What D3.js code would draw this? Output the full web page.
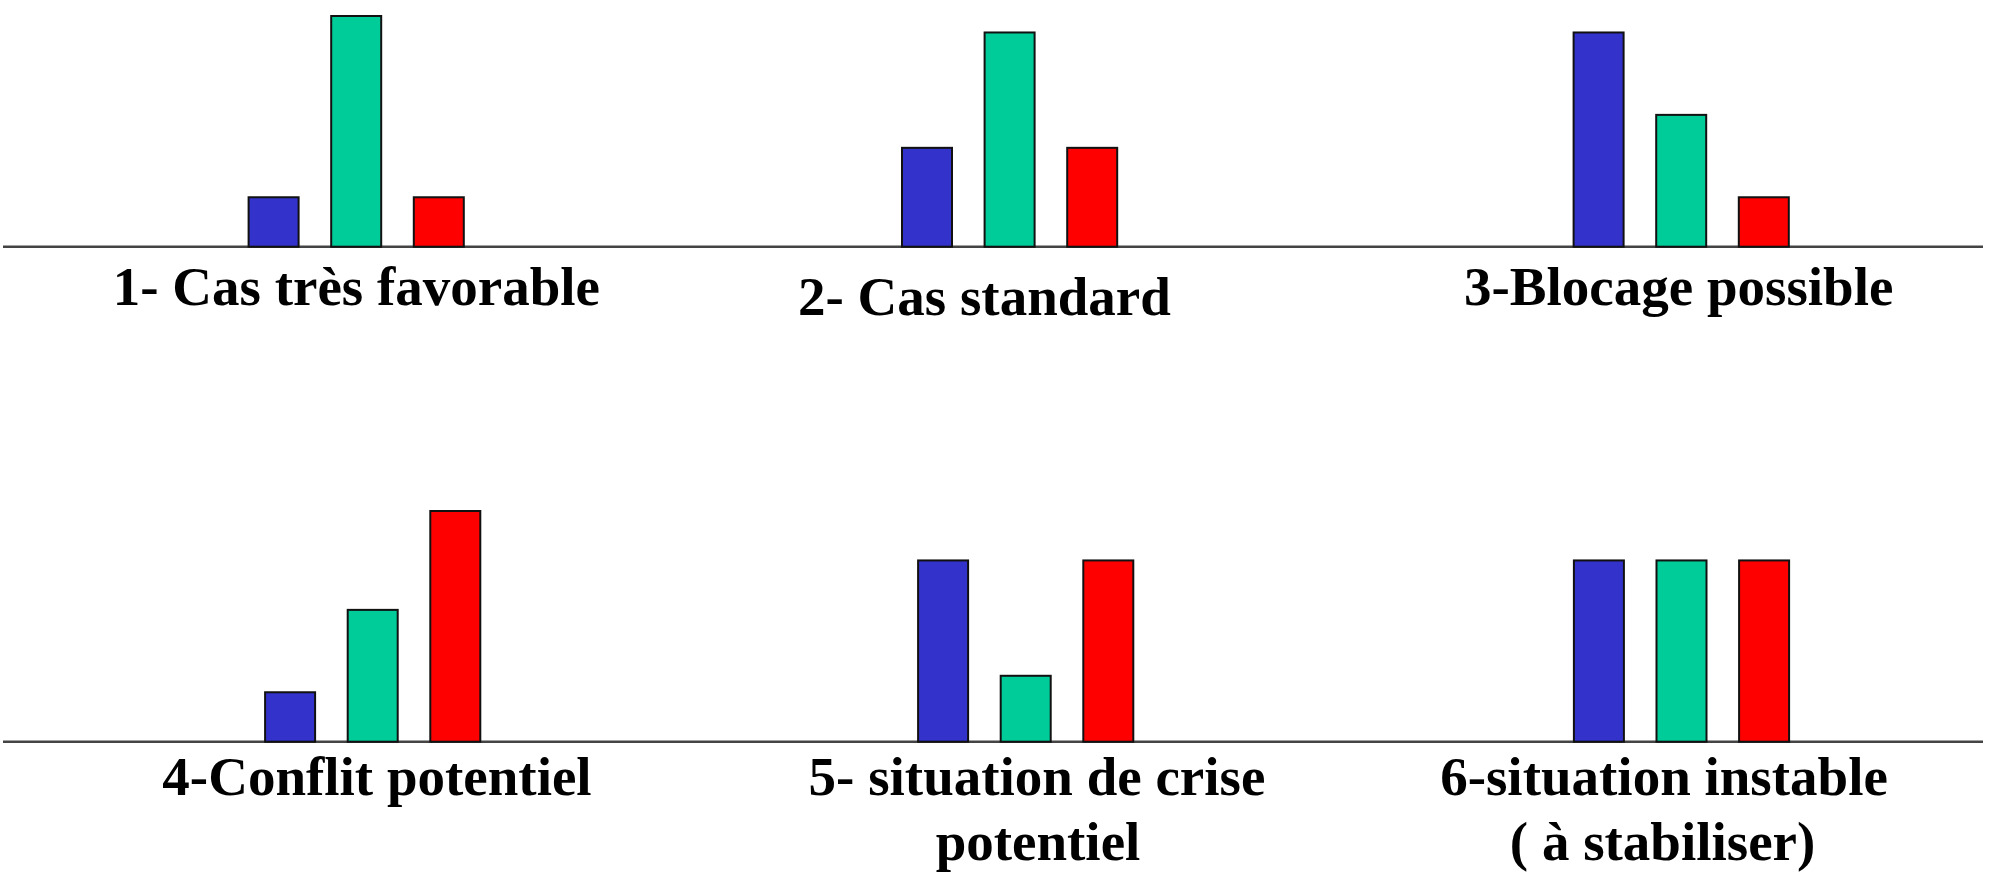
<!DOCTYPE html>
<html>
<head>
<meta charset="utf-8">
<script src="https://cdn.jsdelivr.net/npm/d3@7"></script>
<style>
  html, body { margin: 0; padding: 0; background: #ffffff; }
  svg { display: block; }
</style>
</head>
<body>
<svg id="chart" width="1992" height="882"></svg>
<script>
// ---- data ----
const series = ["A", "B", "C"];
const seriesColors = ["#3333CC", "#00CC99", "#FF0000"];
const scenarios = [
  "1- Cas très favorable",
  "2- Cas standard",
  "3-Blocage possible",
  "4-Conflit potentiel",
  "5- situation de crise potentiel",
  "6-situation instable ( à stabiliser)"
];
const labelLines = [
  ["1- Cas très favorable"],
  ["2- Cas standard"],
  ["3-Blocage possible"],
  ["4-Conflit potentiel"],
  ["5- situation de crise", "potentiel"],
  ["6-situation instable", "( à stabiliser)"]
];
const valuesA = [3, 6, 13, 3, 11, 11];
const valuesB = [14, 13, 8, 8, 4, 11];
const valuesC = [3, 6, 3, 14, 11, 11];

// ---- layout ----
const W = 1992, H = 882;
const rowBaselines = [246.7, 741.7];
const panelCenters = [356.2, 1009.6, 1681.2, 372.7, 1025.7, 1681.5];
const panelRows = [0, 0, 0, 1, 1, 1];
const labelCenters = [[356.4], [984.4], [1678.7], [377], [1037, 1038], [1664, 1662.6]];
const labelBaselines = [[305], [315], [305], [795], [795, 860], [795, 860]];
const groupWidth = 247.8;
const pInner = 32.6 / 82.6;

const svg = d3.select("#chart");

const y = d3.scaleLinear().domain([0, 14]).range([0, 230.7]);
const color = d3.scaleOrdinal().domain(series).range(seriesColors);

// baselines
rowBaselines.forEach(b => {
  svg.append("line")
    .attr("x1", 3).attr("x2", 1983)
    .attr("y1", b).attr("y2", b)
    .attr("stroke", "#444444")
    .attr("stroke-width", 2.6);
});

const allValues = [valuesA, valuesB, valuesC];

scenarios.forEach((sc, i) => {
  const cx = panelCenters[i];
  const base = rowBaselines[panelRows[i]];
  const x = d3.scaleBand()
    .domain(series)
    .range([cx - groupWidth / 2, cx + groupWidth / 2])
    .paddingInner(pInner)
    .paddingOuter(pInner / 2);
  const g = svg.append("g").attr("class", "panel");
  const data = series.map((s, k) => ({ s, v: allValues[k][i] }));
  g.selectAll("rect")
    .data(data)
    .join("rect")
    .attr("x", d => x(d.s))
    .attr("width", x.bandwidth())
    .attr("y", d => base - y(d.v))
    .attr("height", d => y(d.v))
    .attr("fill", d => color(d.s))
    .attr("stroke", "#111111")
    .attr("stroke-width", 2);

  labelLines[i].forEach((line, j) => {
    svg.append("text")
      .attr("x", labelCenters[i][j])
      .attr("y", labelBaselines[i][j])
      .attr("text-anchor", "middle")
      .attr("font-family", "'Liberation Serif', 'Times New Roman', serif")
      .attr("font-weight", "bold")
      .attr("font-size", 55)
      .attr("fill", "#000000")
      .text(line);
  });
});

// redraw baselines on top of bar bottoms
</script>
</body>
</html>
